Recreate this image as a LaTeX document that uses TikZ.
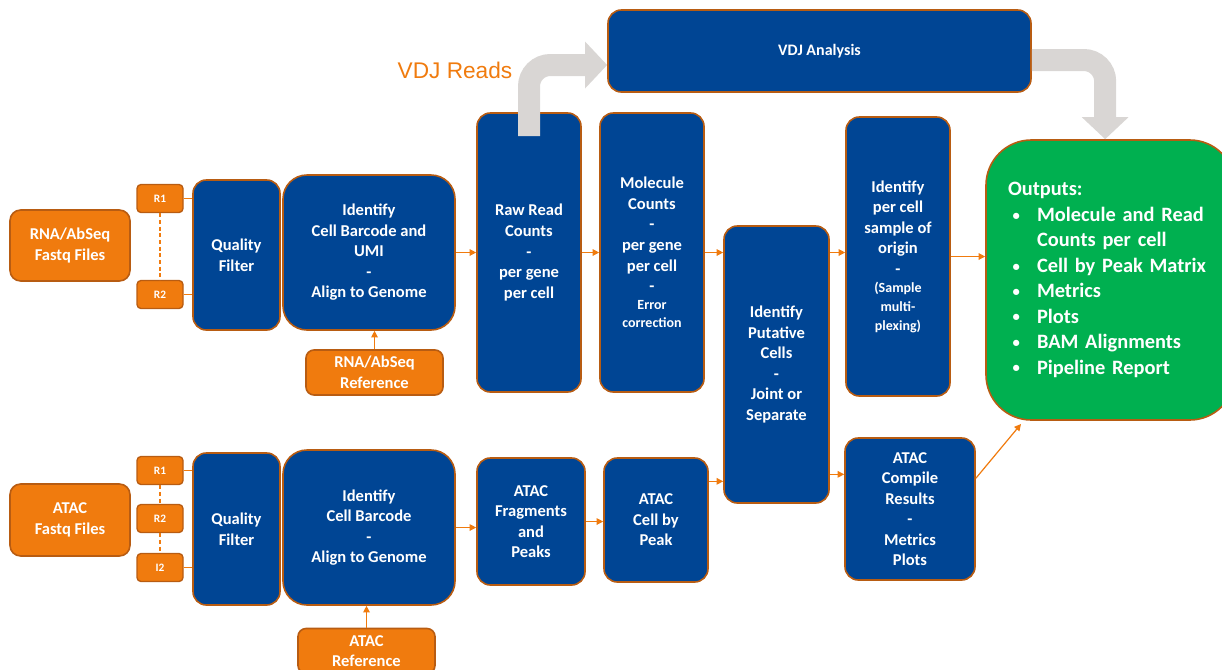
\documentclass[tikz,border=0pt]{standalone}
\usepackage{fontspec}
\setmainfont{Carlito}
\newfontfamily\arialfont{Liberation Sans}
\usetikzlibrary{arrows.meta}

\definecolor{flowblue}{RGB}{0,69,148}
\definecolor{fileorange}{RGB}{240,123,14}
\definecolor{edgebrown}{RGB}{184,92,18}
\definecolor{outgreen}{RGB}{0,176,80}
\definecolor{vdjgray}{RGB}{217,214,212}

\newcommand{\outitem}[1]{\makebox[21.75pt][l]{\hspace{3.5pt}\raisebox{1pt}{\fontsize{11}{11}\selectfont\textbullet}}#1}
\newcommand{\outindent}{\makebox[21.75pt]{}}
\newcommand{\smline}[1]{{\fontsize{10.5}{12}\selectfont #1}}

\begin{document}
\begin{tikzpicture}[x=0.75pt, y=-0.75pt,
    every node/.style={font=\bfseries\fontsize{12.4}{15.4}\selectfont, text=white, align=center, inner sep=0pt},
    stepbox/.style={draw=edgebrown, line width=1.2pt, fill=flowblue, rounded corners=10pt},
    filebox/.style={draw=edgebrown, line width=1.2pt, fill=fileorange, rounded corners=8pt},
    readbox/.style={draw=edgebrown, line width=1pt, fill=fileorange, rounded corners=3pt,
        minimum width=34.5pt, minimum height=21pt, font=\bfseries\fontsize{8.5}{10}\selectfont},
    flow/.style={draw=fileorange, line width=0.9pt, -{Triangle[length=5pt,width=5pt]}},
    link/.style={draw=fileorange, line width=0.9pt},
    bigarrow/.style={draw=vdjgray, line width=16.5pt, rounded corners=16pt,
        -{Triangle[length=16.5pt,width=34pt]}}]
    \useasboundingbox (0,0) rectangle (1222,669);

    % RNA/AbSeq branch
    \node[filebox, minimum width=90pt, minimum height=53.25pt] (rnafq) at (70,245.5) {RNA/AbSeq\\Fastq Files};
    \node[readbox] (rnar1) at (160,198.5) {R1};
    \node[readbox] (rnar2) at (160,294.5) {R2};
    \node[stepbox, minimum width=65.25pt, minimum height=112.5pt] (rnaqf) at (236.5,255) {Quality\\Filter};
    \node[stepbox, rounded corners=18pt, minimum width=129pt, minimum height=116.25pt] (rnaid) at (369,252.5)
        {Identify\\Cell Barcode and\\UMI\\-\\Align to Genome};
    \node[filebox, rounded corners=6pt, minimum width=102.75pt, minimum height=33.75pt] (rnaref) at (374.5,372.5)
        {RNA/AbSeq\\Reference};
    \node[stepbox, minimum width=78pt, minimum height=209.25pt] (rawcnt) at (529,252.5)
        {Raw Read\\Counts\\-\\per gene\\per cell};
    \node[stepbox, minimum width=78pt, minimum height=209.25pt] (molcnt) at (652,252.5)
        {Molecule\\Counts\\-\\per gene\\per cell\\-\\[-1.9pt]\smline{Error}\\[-1.9pt]\smline{correction}};
    \node[stepbox, minimum width=78.75pt, minimum height=207.75pt] (putcell) at (776.5,364.5)
        {Identify\\Putative\\Cells\\-\\Joint or\\Separate};
    \node[stepbox, minimum width=78pt, minimum height=209.25pt] (smporig) at (898,256.5)
        {Identify\\per cell\\sample of\\origin\\-\\[-1.9pt]\smline{(Sample}\\[-1.2pt]\smline{multi-}\\[-1.2pt]\smline{plexing)}};
    \node[stepbox, minimum width=317.25pt, minimum height=61.5pt, font=\bfseries\fontsize{12}{14}\selectfont] (vdj)
        at (819.5,51) {VDJ Analysis};
    \node[draw=edgebrown, line width=1.2pt, fill=outgreen, rounded corners=34pt, minimum width=186.75pt,
        minimum height=210pt, text width=153.75pt, align=left, font=\bfseries\fontsize{15.3}{19.1}\selectfont] (outputs)
        at (1110.5,280) {Outputs:\\\outitem{Molecule and Read}\\\outindent Counts per cell\\\outitem{Cell by Peak Matrix}\\
        \outitem{Metrics}\\\outitem{Plots}\\\outitem{BAM Alignments}\\\outitem{Pipeline Report}};

    % ATAC branch
    \node[filebox, minimum width=90pt, minimum height=54pt] (atacfq) at (70,520) {ATAC\\Fastq Files};
    \node[readbox] (atacr1) at (160,470.5) {R1};
    \node[readbox] (atacr2) at (160,518.5) {R2};
    \node[readbox] (ataci2) at (160,567.5) {I2};
    \node[stepbox, minimum width=65.25pt, minimum height=114pt] (atacqf) at (236.5,529) {Quality\\Filter};
    \node[stepbox, rounded corners=18pt, minimum width=129pt, minimum height=116.25pt] (atacid) at (369,527.5)
        {Identify\\Cell Barcode\\-\\Align to Genome};
    \node[filebox, rounded corners=6pt, minimum width=102.75pt, minimum height=33.75pt] (atacref) at (366.5,651)
        {ATAC\\Reference};
    \node[stepbox, minimum width=81pt, minimum height=95.25pt] (frag) at (531,521.5) {ATAC\\Fragments\\and\\Peaks};
    \node[stepbox, minimum width=78pt, minimum height=93pt] (cellpeak) at (656,520) {ATAC\\Cell by\\Peak};
    \node[stepbox, minimum width=97.5pt, minimum height=106.5pt] (compile) at (910,509)
        {ATAC\\Compile\\Results\\-\\Metrics\\Plots};

    \node[font=\arialfont\fontsize{17}{20}\selectfont, text=fileorange] (vdjlabel) at (455,70) {VDJ Reads};

    % read boxes
    \draw[link, dash pattern=on 3pt off 2pt] (rnar1) -- (rnar2);
    \draw[link] (rnar1.east) -- (rnar1.east -| rnaqf.west);
    \draw[link] (rnar2.east) -- (rnar2.east -| rnaqf.west);
    \draw[link, dash pattern=on 3pt off 2pt] (atacr1) -- (atacr2);
    \draw[link, dash pattern=on 3pt off 2pt] (atacr2) -- (ataci2);
    \draw[link] (atacr1.east) -- (atacr1.east -| atacqf.west);
    \draw[link] (ataci2.east) -- (ataci2.east -| atacqf.west);

    % RNA flow
    \draw[flow] (rnaref.north) -- (rnaref.north |- rnaid.south);
    \draw[flow] (rnaid.east) -- (rnaid.east -| rawcnt.west);
    \draw[flow] (rawcnt.east) -- (rawcnt.east -| molcnt.west);
    \draw[flow] (molcnt.east) -- (molcnt.east -| putcell.west);
    \draw[flow] (molcnt.east -| putcell.east) -- (molcnt.east -| smporig.west);
    \draw[flow] (smporig.east) -- (smporig.east -| outputs.west);

    % ATAC flow
    \coordinate (peakout) at ([yshift=29pt]cellpeak.east);
    \coordinate (compin) at ([yshift=26pt]compile.west);
    \coordinate (outin) at (1021,424);
    \draw[flow] (atacref.north) -- (atacref.north |- atacid.south);
    \draw[flow] (atacid.east) -- (atacid.east -| frag.west);
    \draw[flow] (frag.east) -- (frag.east -| cellpeak.west);
    \draw[flow] (peakout) -- (peakout -| putcell.west);
    \draw[flow] (compin -| putcell.east) -- (compin);
    \draw[flow] (compile.25) -- (outin);

    % VDJ arrows
    \coordinate (vdjfrom) at ([yshift=-18pt]rawcnt.north);
    \draw[bigarrow] (vdjfrom) |- ([yshift=-10.5pt]vdj.west);
    \draw[bigarrow] ([yshift=-6.75pt]vdj.east) -| ([xshift=-4pt]outputs.north);
\end{tikzpicture}
\end{document}
